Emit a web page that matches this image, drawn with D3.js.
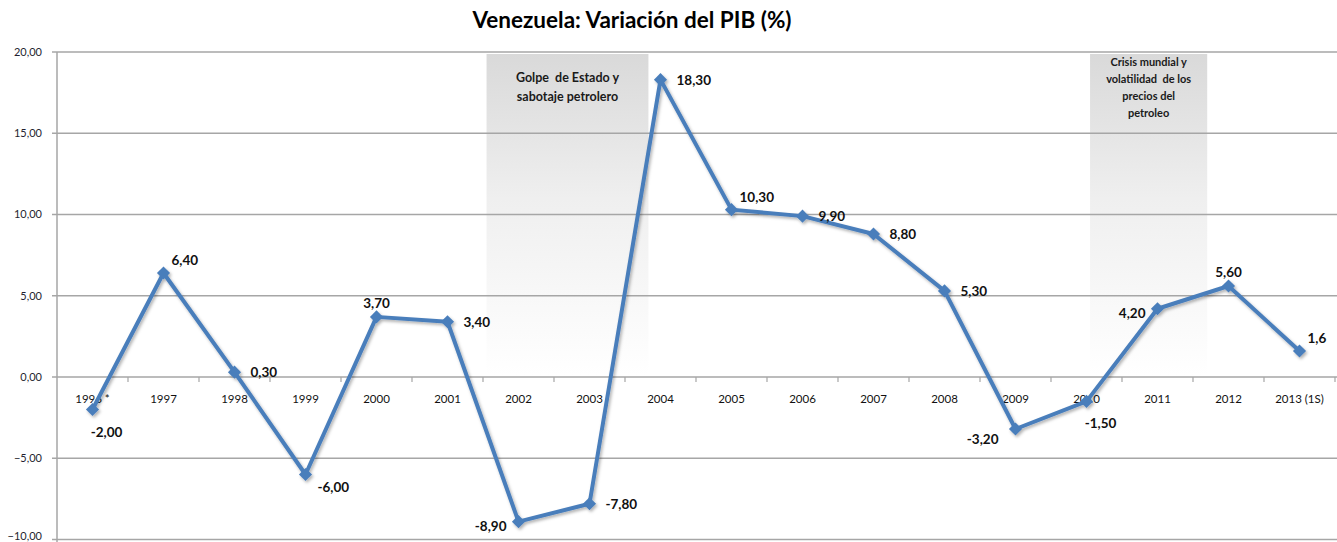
<!DOCTYPE html>
<html>
<head>
<meta charset="utf-8">
<script src="https://cdn.jsdelivr.net/npm/d3@7"></script>
<style>
  body { margin: 0; background: #fff; }
  text { font-family: Lato, "Open Sans", sans-serif; }
</style>
</head>
<body>
<div id="chart"></div>
<script>
var years = ['1996 *','1997','1998','1999','2000','2001','2002','2003','2004','2005','2006','2007','2008','2009','2010','2011','2012','2013 (1S)'];
var pib = [-2.0, 6.4, 0.3, -6.0, 3.7, 3.4, -8.9, -7.8, 18.3, 10.3, 9.9, 8.8, 5.3, -3.2, -1.5, 4.2, 5.6, 1.6];
var pibLabels = ['-2,00','6,40','0,30','-6,00','3,70','3,40','-8,90','-7,80','18,30','10,30','9,90','8,80','5,30','-3,20','-1,50','4,20','5,60','1,6'];
var labelPlacement = ['below','aboveRight','right','belowRight','above','right','left','right','right','aboveRight','right','right','right','belowLeft','below','left','above','aboveRight'];
var yTicks = [-10, -5, 0, 5, 10, 15, 20];
var noteTexts = [
  ['Golpe  de Estado y', 'sabotaje petrolero'],
  ['Crisis mundial y', 'volatilidad  de los', 'precios del', 'petroleo']
];

var width = 1337, height = 542,
    margin = {top: 52, right: 2, bottom: 2, left: 57};

var svg = d3.select('#chart').append('svg')
    .attr('width', width)
    .attr('height', height);

var x = d3.scaleBand().domain(years).range([margin.left, width - margin.right]);
var y = d3.scaleLinear().domain([-10, 20]).range([height - 2.5, margin.top]);
// continuous category index -> pixel, for the text boxes that sit between categories
var xi = d3.scaleLinear().domain([0, years.length]).range(x.range());

// box spans in category units (start, end) and text layout
var noteLayout = [
  {span: [6.05, 8.33], size: 12.5, step: 19, top: 82},
  {span: [14.55, 16.2], size: 11, step: 17, top: 66}
];

var defs = svg.append('defs');
var grad = defs.append('linearGradient').attr('id', 'shade')
    .attr('x1', 0).attr('y1', 0).attr('x2', 0).attr('y2', 1);
grad.append('stop').attr('offset', '0%').attr('stop-color', '#d9d9d9');
grad.append('stop').attr('offset', '45%').attr('stop-color', '#efefef');
grad.append('stop').attr('offset', '100%').attr('stop-color', '#ffffff');

var shadow = defs.append('filter').attr('id', 'shadow')
    .attr('x', '-20%').attr('y', '-20%').attr('width', '140%').attr('height', '140%');
shadow.append('feDropShadow').attr('dx', 1.5).attr('dy', 2).attr('stdDeviation', 1.5)
    .attr('flood-color', '#000').attr('flood-opacity', 0.3);

// shaded annotation boxes
var noteG = svg.selectAll('.note').data(noteTexts).enter().append('g').attr('class', 'note');
noteG.append('rect')
    .attr('x', function(d, i){ return xi(noteLayout[i].span[0]); })
    .attr('y', y(20) + 2)
    .attr('width', function(d, i){ return xi(noteLayout[i].span[1]) - xi(noteLayout[i].span[0]); })
    .attr('height', y(0) - y(20) - 4)
    .attr('fill', 'url(#shade)');

// gridlines
svg.append('g').selectAll('line').data(yTicks).enter().append('line')
    .attr('x1', margin.left - 5).attr('x2', width)
    .attr('y1', function(d){ return y(d); }).attr('y2', function(d){ return y(d); })
    .attr('stroke', '#a6a6a6').attr('stroke-width', 1.5);

// y axis line
svg.append('line')
    .attr('x1', margin.left).attr('x2', margin.left)
    .attr('y1', y(20)).attr('y2', height)
    .attr('stroke', '#a6a6a6').attr('stroke-width', 1.5);

// y labels (bottom one kept inside the frame)
svg.append('g').selectAll('text').data(yTicks).enter().append('text')
    .attr('x', 42).attr('y', function(d){ return Math.min(y(d), height - 6); })
    .attr('dy', '0.35em')
    .attr('text-anchor', 'end')
    .attr('font-size', 11)
    .attr('fill', '#1f1f2f')
    .text(function(d){ return d3.format('.2f')(d).replace('.', ','); });

// x ticks along zero line
svg.append('g').selectAll('line').data(years).enter().append('line')
    .attr('x1', function(d){ return x(d) + x.bandwidth(); })
    .attr('x2', function(d){ return x(d) + x.bandwidth(); })
    .attr('y1', y(0)).attr('y2', y(0) + 5)
    .attr('stroke', '#a6a6a6').attr('stroke-width', 1.2);

svg.append('g').selectAll('text').data(years).enter().append('text')
    .attr('x', function(d){ return x(d) + x.bandwidth() / 2; })
    .attr('y', y(0) + 26)
    .attr('text-anchor', 'middle')
    .attr('font-size', 11.5)
    .attr('fill', '#111')
    .text(function(d){ return d; });

// note texts
noteG.each(function(d, i) {
  var L = noteLayout[i];
  var cx = (xi(L.span[0]) + xi(L.span[1])) / 2;
  d3.select(this).selectAll('text').data(d).enter().append('text')
      .attr('x', cx)
      .attr('y', function(l, j){ return L.top + j * L.step; })
      .attr('text-anchor', 'middle')
      .attr('font-size', L.size)
      .attr('font-weight', 'bold')
      .attr('fill', '#1a1a1a')
      .style('white-space', 'pre')
      .text(function(l){ return l; });
});

// line + markers
var cx = function(d, i){ return x(years[i]) + x.bandwidth() / 2; };
var line = d3.line().x(cx).y(function(d){ return y(d); });

var series = svg.append('g').attr('filter', 'url(#shadow)');
series.append('path')
    .datum(pib)
    .attr('d', line)
    .attr('fill', 'none')
    .attr('stroke', '#4a7ebb')
    .attr('stroke-width', 4)
    .attr('stroke-linejoin', 'round');

series.selectAll('.pt').data(pib).enter().append('path')
    .attr('class', 'pt')
    .attr('d', d3.symbol().type(d3.symbolDiamond2).size(110))
    .attr('transform', function(d, i){ return 'translate(' + cx(d, i) + ',' + y(d) + ')'; })
    .attr('fill', '#4a7ebb');

// data labels
var offsets = {
  right: [16, 5, 'start'],
  left: [-12, 9, 'end'],
  above: [0, -9, 'middle'],
  below: [14, 27, 'middle'],
  aboveRight: [8, -8, 'start'],
  belowRight: [12, 17, 'start'],
  belowLeft: [-17, 15, 'end']
};
svg.append('g').selectAll('text').data(pib).enter().append('text')
    .attr('x', function(d, i){ return cx(d, i) + offsets[labelPlacement[i]][0]; })
    .attr('y', function(d, i){ return y(d) + offsets[labelPlacement[i]][1]; })
    .attr('text-anchor', function(d, i){ return offsets[labelPlacement[i]][2]; })
    .attr('font-size', 13.5)
    .attr('font-weight', 'bold')
    .attr('fill', '#111')
    .text(function(d, i){ return pibLabels[i]; });

// title
svg.append('text')
    .attr('x', 632).attr('y', 28)
    .attr('text-anchor', 'middle')
    .attr('font-size', 22.5)
    .attr('font-weight', 'bold')
    .attr('fill', '#000')
    .text('Venezuela: Variación del PIB (%)');
</script>
</body>
</html>
